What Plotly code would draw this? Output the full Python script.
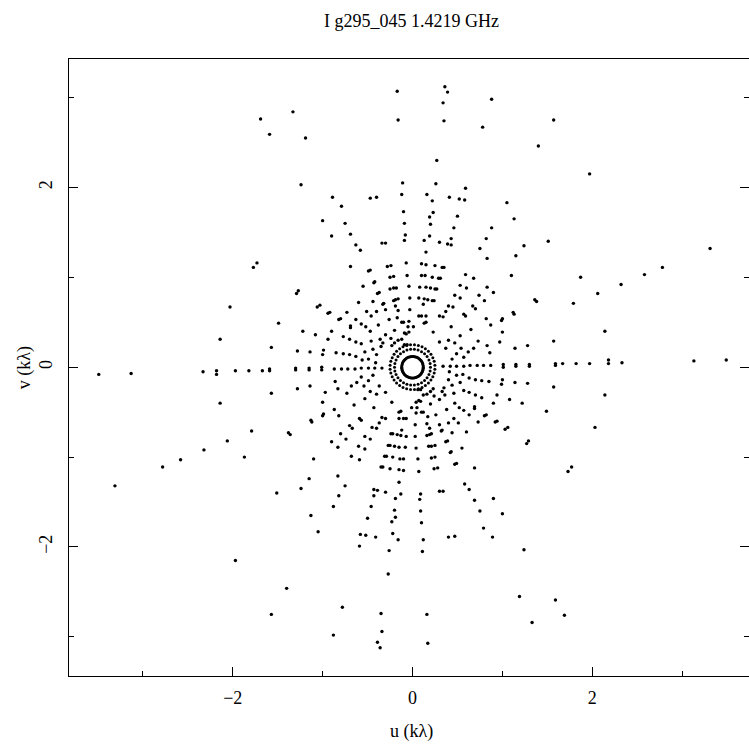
import plotly.graph_objects as go

# uv-coverage of g295_045 at 1.4219 GHz, in kilo-wavelengths.
# Only the v >= 0 half is listed; every visibility is also drawn at its
# conjugate position (-u, -v).

# Long-baseline points
u_outer = [-0.17, -0.16, -1.33, -1.69, -1.59, -1.19, -1.24, -0.11, -0.12, -0.89,
           -0.79, -0.47, -0.40, -0.10,
           0.36, 0.39, 0.88, 0.34, 0.35, 0.78, 1.57, 1.40, 1.97, 0.27,
           0.26, 0.59, 0.16, 0.22, 0.41, 0.52, 0.58, 1.05, 0.23, 0.50, 0.19,
           -1.73, -1.77, -2.03, -2.14,
           3.31, 2.78, 2.58, 1.87, 2.32, 2.06, 1.79, 2.14]
v_outer = [3.07, 2.75, 2.84, 2.76, 2.59, 2.55, 2.03, 2.05, 1.92, 1.89,
           1.79, 1.88, 1.89, 1.73,
           3.12, 3.06, 2.98, 2.94, 2.74, 2.67, 2.75, 2.46, 2.15, 2.30,
           2.04, 1.99, 1.92, 1.85, 1.89, 1.87, 1.86, 1.83, 1.72, 1.68, 1.67,
           1.16, 1.11, 0.67, 0.31,
           1.32, 1.11, 1.03, 1.00, 0.92, 0.82, 0.71, 0.40]

# Near east-west row
u_row = [0.34, 0.42, 0.49, 0.57, 0.64, 0.72, 0.79, 0.87, 1.01, 1.15, 1.30, 1.59,
         1.67, 1.01, 1.15, 1.30, 1.59,
         1.82, 1.97, 2.18, 2.18, 2.33, 3.13, 3.49]
v_row = [0.01, 0.01, 0.01, 0.01, 0.02, 0.02, 0.02, 0.02, 0.03, 0.03, 0.03, 0.04,
         0.04, 0.00, 0.01, 0.01, 0.02,
         0.04, 0.04, 0.08, 0.04, 0.05, 0.07, 0.08]

# Intermediate baselines, u < 0
u_mid_w = [-1.00, -0.75, -0.09, -0.90, -0.69, -0.08, -0.09, -0.63, -0.58, -0.34,
           -0.30, -0.07, -0.69, -0.49, -0.47, -0.28, -0.24, -0.06, -0.25, -0.21,
           -0.43, -0.42, -0.55, -0.25, -0.21, -0.18, -0.04, -0.37, -0.39, -1.27,
           -1.29, -0.60, -0.44, -0.32, -0.33, -0.19, -0.16, -0.21, -0.03, -1.06,
           -1.03, -0.94, -0.92, -0.73, -0.51, -0.40, -0.30, -0.19, -0.16, -0.03,
           -0.82, -0.80, -0.69, -0.69, -0.63, -0.57, -0.46, -0.52, -0.38, -0.26,
           -0.17, -0.12, -0.10, -0.04, -1.49, -1.22, -0.90, -1.08, -0.77, -0.47,
           -0.30, -0.20, -0.09, -0.07, -0.04, -0.05, -0.94, -0.70, -0.63, -0.57,
           -0.46, -0.36, -0.24, -0.16, -0.12, -1.57, -1.28, -1.14, -1.00, -0.99,
           -0.85, -0.77, -0.70, -0.63, -0.56, -0.53, -0.49, -0.44, -0.41, -0.40,
           -0.35, -0.33, -0.23, -0.20, -0.09, -0.06]
v_mid_w = [1.63, 1.60, 1.60, 1.46, 1.48, 1.47, 1.41, 1.36, 1.30, 1.38,
           1.38, 1.16, 1.12, 1.07, 1.08, 1.12, 1.13, 1.02, 1.00, 1.01,
           0.94, 0.95, 0.90, 0.87, 0.88, 0.88, 0.90, 0.83, 0.82, 0.85,
           0.82, 0.72, 0.73, 0.71, 0.70, 0.75, 0.76, 0.74, 0.77, 0.67,
           0.69, 0.60, 0.61, 0.61, 0.62, 0.62, 0.64, 0.68, 0.63, 0.64,
           0.53, 0.54, 0.46, 0.44, 0.53, 0.48, 0.57, 0.45, 0.47, 0.53,
           0.55, 0.50, 0.50, 0.51, 0.49, 0.40, 0.40, 0.36, 0.34, 0.40,
           0.36, 0.41, 0.38, 0.37, 0.39, 0.45, 0.31, 0.31, 0.28, 0.26,
           0.29, 0.31, 0.32, 0.30, 0.31, 0.22, 0.18, 0.17, 0.14, 0.19,
           0.16, 0.15, 0.14, 0.12, 0.08, 0.17, 0.09, 0.20, 0.05, 0.14,
           0.23, 0.27, 0.24, 0.27, 0.25, 0.25]

# Intermediate baselines, u > 0
u_mid_e = [0.20, 1.13, 0.46, 0.88, 0.19, 0.13, 0.43, 0.30, 0.39, 0.43,
           0.82, 1.51, 1.24, 0.75, 0.15, 1.15, 0.83, 0.10, 0.15, 0.25,
           0.33, 0.35, 0.59, 0.68, 1.10, 0.10, 0.14, 0.22, 0.29, 0.31,
           0.53, 0.60, 0.83, 0.90, 0.08, 0.15, 0.20, 0.25, 0.27, 0.47,
           0.53, 0.74, 0.80, 1.36, 1.38, 0.07, 0.13, 0.17, 0.22, 0.24,
           0.40, 0.45, 0.67, 0.70, 1.12, 1.13, 0.12, 0.07, 0.10, 0.15,
           0.37, 0.30, 0.34, 0.57, 0.59, 0.82, 1.00, 0.99, 0.87, 1.00,
           0.97, 1.14, 1.28, 1.57, 0.73, 0.83, 0.86, 0.68, 0.62, 0.54,
           0.47, 0.40, 0.30, 0.37, 0.49, 0.57, 0.44, 0.53, 0.65, 0.43,
           0.23, 0.13, 0.15, 0.01]
v_mid_e = [1.59, 1.65, 1.55, 1.55, 1.46, 1.41, 1.43, 1.39, 1.37, 1.36,
           1.43, 1.40, 1.35, 1.32, 1.28, 1.24, 1.21, 1.15, 1.14, 1.13,
           1.11, 1.11, 1.03, 0.99, 1.02, 1.02, 1.02, 1.00, 0.99, 0.99,
           0.91, 0.88, 0.89, 0.83, 0.89, 0.89, 0.88, 0.87, 0.87, 0.80,
           0.77, 0.80, 0.74, 0.75, 0.73, 0.77, 0.76, 0.75, 0.74, 0.74,
           0.68, 0.67, 0.68, 0.65, 0.61, 0.59, 0.70, 0.57, 0.57, 0.57,
           0.62, 0.57, 0.56, 0.59, 0.57, 0.54, 0.54, 0.52, 0.47, 0.39,
           0.28, 0.21, 0.24, 0.29, 0.29, 0.24, 0.16, 0.21, 0.17, 0.21,
           0.27, 0.30, 0.28, 0.21, 0.15, 0.11, 0.09, 0.35, 0.42, 0.45,
           0.39, 0.49, 0.50, 0.45]

# Shortest baselines: the three innermost rings
u_core = [0.120, 0.119, 0.117, 0.114, 0.110, 0.104, 0.097, 0.089, 0.080, 0.071,
          0.060, 0.049, 0.037, 0.025, 0.013, 0.000, -0.013, -0.025, -0.037, -0.049,
          -0.060, -0.071, -0.080, -0.089, -0.097, -0.104, -0.110, -0.114, -0.117, -0.119,
          0.200, 0.196, 0.183, 0.162, 0.134, 0.100, 0.062, 0.021, -0.021, -0.062,
          -0.100, -0.134, -0.162, -0.183, -0.196,
          0.249, 0.241, 0.226, 0.205, 0.177, 0.143, 0.106, 0.065, 0.022, -0.022,
          -0.065, -0.106, -0.143, -0.177, -0.205, -0.226, -0.241, -0.249]
v_core = [0.000, 0.013, 0.025, 0.037, 0.049, 0.060, 0.071, 0.080, 0.089, 0.097,
          0.104, 0.110, 0.114, 0.117, 0.119, 0.120, 0.119, 0.117, 0.114, 0.110,
          0.104, 0.097, 0.089, 0.080, 0.071, 0.060, 0.049, 0.037, 0.025, 0.013,
          0.000, 0.042, 0.081, 0.118, 0.149, 0.173, 0.190, 0.199, 0.199, 0.190,
          0.173, 0.149, 0.118, 0.081, 0.042,
          0.022, 0.065, 0.106, 0.143, 0.177, 0.205, 0.226, 0.241, 0.249, 0.249,
          0.241, 0.226, 0.205, 0.177, 0.143, 0.106, 0.065, 0.022]

u_half = u_outer + u_row + u_mid_w + u_mid_e
v_half = v_outer + v_row + v_mid_w + v_mid_e
u_all = u_half + [-u for u in u_half]
v_all = v_half + [-v for v in v_half]
u_core_all = u_core + [-u for u in u_core]
v_core_all = v_core + [-v for v in v_core]

SERIF = "Liberation Serif"

fig = go.Figure()
fig.add_trace(go.Scatter(
    x=u_all, y=v_all, mode="markers",
    marker=dict(color="black", size=3.4, line=dict(width=0)),
    hoverinfo="skip",
))
fig.add_trace(go.Scatter(
    x=u_core_all, y=v_core_all, mode="markers",
    marker=dict(color="black", size=3.0, line=dict(width=0)),
    hoverinfo="skip",
))

axis_common = dict(
    showgrid=False, zeroline=False, showline=True, linecolor="black", linewidth=1,
    ticks="inside", ticklen=9, tickwidth=1, tickcolor="black",
    dtick=2, tick0=0,
    tickfont=dict(family=SERIF, size=18, color="black"),
    minor=dict(ticks="inside", ticklen=5, tickwidth=1, tickcolor="black", dtick=1, tick0=0),
)

fig.update_xaxes(range=[-3.821, 3.743], mirror=True, ticklabelstandoff=5, **axis_common)
fig.update_yaxes(range=[-3.435, 3.428], mirror="ticks", tickangle=-90,
                 ticklabelstandoff=9, **axis_common)

fig.add_annotation(text="I g295_045 1.4219 GHz", x=0.504, y=1.062, xref="paper", yref="paper",
                   xanchor="center", yanchor="middle", showarrow=False,
                   font=dict(family=SERIF, size=18, color="black"))
fig.add_annotation(text="u (kλ)", x=0.504, y=-0.0905, xref="paper", yref="paper",
                   xanchor="center", yanchor="middle", showarrow=False,
                   font=dict(family=SERIF, size=18, color="black"))
fig.add_annotation(text="v (kλ)", x=-0.065, y=0.5, xref="paper", yref="paper",
                   xanchor="center", yanchor="middle", showarrow=False, textangle=-90,
                   font=dict(family=SERIF, size=18, color="black"))

fig.update_layout(
    width=749, height=746,
    margin=dict(l=69, r=0, t=59, b=70),
    plot_bgcolor="white", paper_bgcolor="white",
    showlegend=False,
)

fig.write_html("out.html")
